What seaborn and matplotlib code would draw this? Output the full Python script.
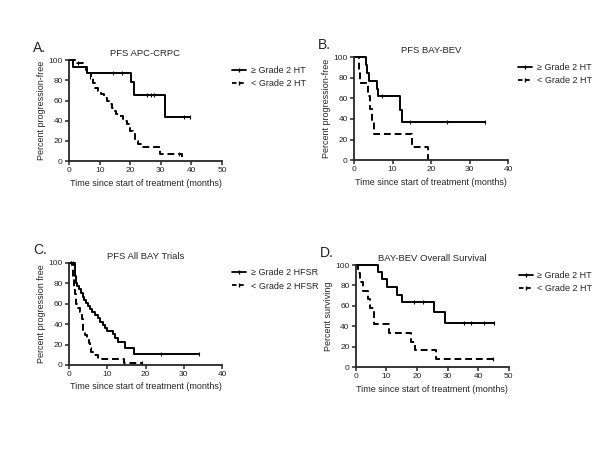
import numpy as np
import pandas as pd
import matplotlib.pyplot as plt
import seaborn as sns
from matplotlib.lines import Line2D

# A. PFS APC-CRPC
a_hi_t = [0, 1.2, 5.8, 20.2, 21.2, 31.5, 39.5]
a_hi_s = [100, 93, 87, 78, 66, 44, 44]
a_hi_ct = [14.5, 17.2, 25.6, 26.7, 27.8, 37.6, 39.5]
a_hi_cs = [87, 87, 66, 66, 66, 44, 44]
a_lo_t = [0, 2.5, 4.5, 5.5, 6.5, 7.2, 7.8, 8.5, 9.5, 10.5, 11.5, 12.5, 13.3, 14.0,
          14.6, 15.5, 16.5, 17.5, 18.3, 19.0, 19.6, 20.0, 21.0, 21.5, 22.5, 24.0,
          29.8, 37.0]
a_lo_s = [100, 97, 93, 90, 87, 83, 77, 73, 70, 67, 63, 60, 57, 53, 50, 47, 45, 42,
          40, 37, 33, 30, 27, 20, 17, 14, 7, 0]
a_lo_ct = [3.0, 7.0, 36.0]
a_lo_cs = [97, 83, 7]

# B. PFS BAY-BEV
b_hi_t = [0, 3.0, 3.5, 4.0, 5.9, 6.3, 11.9, 12.5, 34.0]
b_hi_s = [100, 92, 85, 77, 69, 62, 49, 37, 37]
b_hi_ct = [7.2, 14.5, 24.0, 34.0]
b_hi_cs = [62, 37, 37, 37]
b_lo_t = [0, 1.2, 1.6, 3.7, 4.2, 4.6, 5.2, 15.0, 19.3]
b_lo_s = [100, 87.5, 75, 62.5, 50, 37.5, 25, 12.5, 0]
b_lo_ct = []
b_lo_cs = []

# C. PFS All BAY Trials
c_hi_t = [0, 1.5, 1.8, 2.2, 2.6, 3.2, 3.6, 4.0, 4.5, 5.0, 5.5, 6.0, 6.8, 7.5, 8.2,
          8.8, 9.5, 10.0, 11.5, 12.0, 12.8, 14.6, 17.0, 34.0]
c_hi_s = [100, 87, 80, 77, 74, 70, 67, 64, 61, 58, 55, 52, 49, 46, 42, 39, 36, 33,
          30, 26, 22, 17, 11, 11]
c_hi_ct = [0.6, 1.0, 24.0, 34.0]
c_hi_cs = [100, 100, 11, 11]
c_lo_t = [0, 1.0, 1.3, 1.6, 1.8, 2.4, 2.9, 3.5, 3.7, 4.2, 4.6, 5.1, 5.4, 5.8, 6.3,
          7.5, 14.5, 19.0]
c_lo_s = [100, 85, 75, 69, 60, 56, 52, 45, 34, 29, 25, 21, 17, 13, 10, 6, 2, 2]
c_lo_ct = [0.5, 19.0]
c_lo_cs = [100, 2]

# D. BAY-BEV Overall Survival
d_hi_t = [0, 7.2, 8.4, 10.2, 13.5, 15.2, 25.6, 29.0, 45.3]
d_hi_s = [100, 93, 86, 79, 71, 64, 54, 43, 43]
d_hi_ct = [19.0, 22.0, 35.5, 37.5, 42.0, 45.3]
d_hi_cs = [64, 64, 43, 43, 43, 43]
d_lo_t = [0, 0.8, 1.5, 2.2, 4.0, 4.6, 5.8, 11.0, 18.2, 19.5, 26.3, 44.8]
d_lo_s = [100, 92, 83, 75, 67, 58, 42, 33, 25, 17, 8, 8]
d_lo_ct = [44.8]
d_lo_cs = [8]

panels = [
    ("A.", "PFS APC-CRPC", "Percent progression-free", 50,
     [0.115, 0.642, 0.255, 0.224], ("\u2265 Grade 2 HT", "< Grade 2 HT"),
     (a_hi_t, a_hi_s, a_hi_ct, a_hi_cs), (a_lo_t, a_lo_s, a_lo_ct, a_lo_cs)),
    ("B.", "PFS BAY-BEV", "Percent progression-free", 40,
     [0.590, 0.644, 0.257, 0.229], ("\u2265 Grade 2 HT", "< Grade 2 HT"),
     (b_hi_t, b_hi_s, b_hi_ct, b_hi_cs), (b_lo_t, b_lo_s, b_lo_ct, b_lo_cs)),
    ("C.", "PFS All BAY Trials", "Percent progression free", 40,
     [0.115, 0.189, 0.255, 0.227], ("\u2265 Grade 2 HFSR", "< Grade 2 HFSR"),
     (c_hi_t, c_hi_s, c_hi_ct, c_hi_cs), (c_lo_t, c_lo_s, c_lo_ct, c_lo_cs)),
    ("D.", "BAY-BEV Overall Survival", "Percent surviving", 50,
     [0.593, 0.184, 0.255, 0.227], ("\u2265 Grade 2 HT", "< Grade 2 HT"),
     (d_hi_t, d_hi_s, d_hi_ct, d_hi_cs), (d_lo_t, d_lo_s, d_lo_ct, d_lo_cs)),
]

sns.set_style("ticks")
plt.rcParams["font.family"] = ["Liberation Sans", "DejaVu Sans"]

fig = plt.figure(figsize=(6, 4.5), dpi=100)
fig.patch.set_facecolor("white")

for letter, title, ylab, xmax, pos, labels, hi, lo in panels:
    ax = fig.add_axes(pos)
    for (t, s, ct, cs), ls in [(hi, "-"), (lo, "--")]:
        df = pd.DataFrame({"t": t, "s": s})
        sns.lineplot(data=df, x="t", y="s", ax=ax, color="black", linestyle=ls,
                     linewidth=1.4, drawstyle="steps-post", estimator=None,
                     sort=False, clip_on=False)
        if ls == "--":
            ax.lines[-1].set_dashes([3.5, 2])
        if len(ct):
            cdf = pd.DataFrame({"t": ct, "s": cs})
            sns.scatterplot(data=cdf, x="t", y="s", ax=ax, marker="|", s=7,
                            color="black", linewidth=0.8, clip_on=False)
    ax.set_xlim(0, xmax)
    ax.set_ylim(0, 100)
    ax.set_xticks(np.arange(0, xmax + 1, 10))
    ax.set_yticks(np.arange(0, 101, 20))
    sns.despine(ax=ax)
    for sp in ["left", "bottom"]:
        ax.spines[sp].set_linewidth(1.3)
    ax.tick_params(width=1.1, length=3, labelsize=6, pad=1.5)
    ax.set_xlabel("Time since start of treatment (months)", fontsize=6.5, labelpad=3)
    ax.set_ylabel(ylab, fontsize=6.5, labelpad=2)
    ax.set_title(title, fontsize=6.8, pad=3)
    handles = [
        Line2D([], [], color="black", lw=1.3, marker="|", markersize=2.5),
        Line2D([], [], color="black", lw=1.3, ls=(0, (2.5, 1.5)), marker="|",
               markersize=2.5),
    ]
    ax.legend(handles, labels, loc="upper left", bbox_to_anchor=(1.04, 0.98),
              frameon=False, fontsize=6.5, handlelength=1.6, handletextpad=0.5,
              labelspacing=0.45, numpoints=1, borderaxespad=0)
    fig.text(pos[0] - 0.06, pos[1] + pos[3] + 0.012, letter, fontsize=10,
             ha="left", va="bottom")

fig.savefig("out.png", dpi=100, facecolor="white")
